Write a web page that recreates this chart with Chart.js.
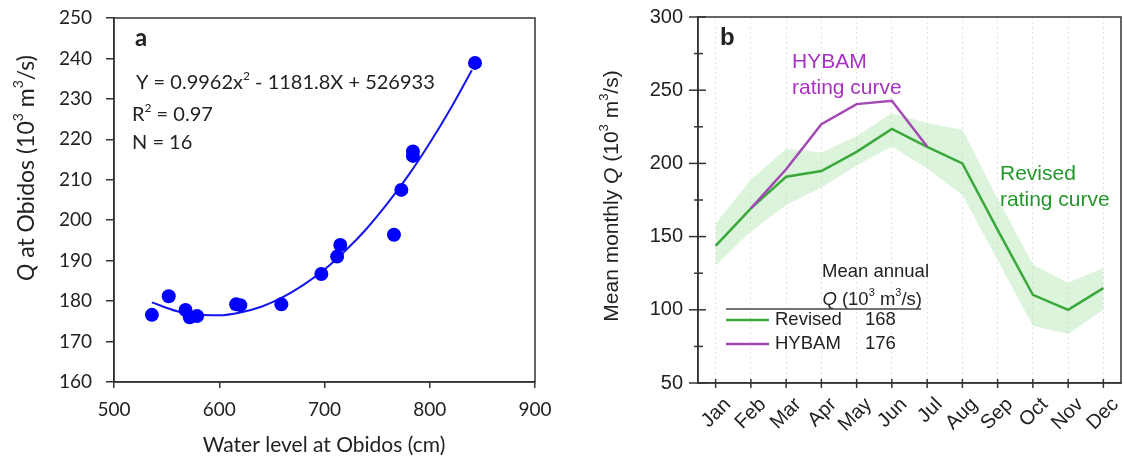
<!DOCTYPE html>
<html>
<head>
<meta charset="utf-8">
<script src="https://cdn.jsdelivr.net/npm/chart.js@4.4.0/dist/chart.umd.min.js"></script>
<style>
  html, body { margin: 0; padding: 0; background: #fff; }
  #wrap { position: relative; width: 1125px; height: 461px; }
  #chartA { position: absolute; left: 0; top: 0; }
  #chartB { position: absolute; left: 560px; top: 0; }
</style>
</head>
<body>
<div id="wrap">
  <canvas id="chartA" width="560" height="461"></canvas>
  <canvas id="chartB" width="565" height="461"></canvas>
</div>
<script>
// ================= DATA: PANEL A =================
const waterLevel = [536, 552, 568, 572, 579, 616, 620, 659, 697, 712, 715, 766, 773, 784, 784, 843];
const dischargeObs = [176.6, 181.2, 177.8, 176.0, 176.3, 179.2, 179.0, 179.2, 186.7, 191.0, 193.9, 196.4, 207.5, 217.0, 215.9, 238.9];

// fitted curve (matches the printed equation)
const fitLevel = [536, 560, 580, 600, 620, 640, 660, 680, 700, 720, 740, 760, 780, 800, 820, 840];
const fitQ = [179.7, 177.5, 176.6, 176.5, 177.2, 178.6, 180.9, 184.0, 187.8, 192.5, 197.9, 204.2, 211.2, 219.1, 227.7, 237.1];

const levelTicks = [500, 600, 700, 800, 900];
const qTicksA = [160, 170, 180, 190, 200, 210, 220, 230, 240, 250];

// ================= DATA: PANEL B =================
const months = ["Jan", "Feb", "Mar", "Apr", "May", "Jun", "Jul", "Aug", "Sep", "Oct", "Nov", "Dec"];
const revisedQ = [143.6, 169.3, 190.9, 194.8, 207.9, 223.6, 211.3, 200.0, 154.6, 110.2, 100.0, 114.8];
const hybamQ = [null, 169.3, 196.0, 226.8, 240.5, 242.8, 211.5, null, null, null, null, null];
const revisedUpper = [159.0, 189.0, 210.0, 207.5, 218.5, 234.5, 227.5, 223.0, 176.0, 131.0, 118.5, 128.5];
const revisedLower = [130.5, 153.5, 171.5, 183.5, 198.5, 211.5, 196.5, 178.5, 134.0, 89.0, 83.5, 100.0];
const qTicksB = [50, 100, 150, 200, 250, 300];

const FONT_A = "Lato, 'Open Sans', sans-serif";
const FONT_B = "'Liberation Sans', Arial, sans-serif";
const INK = "#222";
const GREEN = "#3aa83a";
const PURPLE = "#a349b3";

// ================= RICH TEXT HELPER =================
function drawRich(ctx, segs, x, y, size, family, align) {
  const fontFor = (s) => {
    if (s === "sup") return Math.round(size * 0.62) + "px " + family;
    if (s === "i") return "italic " + size + "px " + family;
    if (s === "b") return "bold " + size + "px " + family;
    return size + "px " + family;
  };
  let w = 0;
  segs.forEach(([t, s]) => {
    ctx.font = fontFor(s);
    w += ctx.measureText(t).width;
  });
  let cx = align === "center" ? x - w / 2 : align === "right" ? x - w : x;
  ctx.textAlign = "left";
  ctx.textBaseline = "middle";
  segs.forEach(([t, s]) => {
    ctx.font = fontFor(s);
    ctx.fillText(t, cx, s === "sup" ? y - size * 0.36 : y);
    cx += ctx.measureText(t).width;
  });
}

function drawRotated(ctx, segs, x, y, size, family) {
  ctx.save();
  ctx.translate(x, y);
  ctx.rotate(-Math.PI / 2);
  drawRich(ctx, segs, 0, 0, size, family, "center");
  ctx.restore();
}

// keep the plot box where the layout padding puts it
function noScalePadding(s) {
  s.paddingTop = 0;
  s.paddingBottom = 0;
  s.paddingLeft = 0;
  s.paddingRight = 0;
}

// ================= PANEL A =================
const panelAText = {
  id: "panelAText",
  afterDraw(chart) {
    const ctx = chart.ctx;
    const a = chart.chartArea;
    ctx.save();
    // frame
    ctx.strokeStyle = "#333";
    ctx.lineWidth = 1.5;
    ctx.strokeRect(a.left, a.top, a.right - a.left, a.bottom - a.top);

    ctx.fillStyle = INK;
    drawRich(ctx, [["a", "b"]], 135, 38, 24, FONT_A, "left");
    drawRich(ctx, [["Y = 0.9962x", ""], ["2", "sup"], [" - 1181.8X + 526933", ""]], 136, 83, 20, FONT_A, "left");
    drawRich(ctx, [["R", ""], ["2", "sup"], [" = 0.97", ""]], 132, 115, 20, FONT_A, "left");
    drawRich(ctx, [["N = 16", ""]], 132, 143, 20, FONT_A, "left");

    drawRich(ctx, [["Water level at Obidos (cm)", ""]], 324, 445, 21, FONT_A, "center");
    drawRotated(ctx, [["Q", "i"], [" at Obidos (10", ""], ["3", "sup"], [" m", ""], ["3", "sup"], ["/s)", ""]], 27, 168, 23, FONT_A);
    ctx.restore();
  },
};

new Chart(document.getElementById("chartA"), {
  type: "scatter",
  data: {
    datasets: [
      {
        label: "Observed",
        data: waterLevel.map((x, i) => ({ x: x, y: dischargeObs[i] })),
        backgroundColor: "#0000ff",
        borderWidth: 0,
        pointRadius: 7,
        order: 0,
      },
      {
        label: "Fit",
        data: fitLevel.map((x, i) => ({ x: x, y: fitQ[i] })),
        showLine: true,
        borderColor: "#1414ee",
        borderWidth: 2,
        pointRadius: 0,
        cubicInterpolationMode: "monotone",
        order: 1,
      },
    ],
  },
  options: {
    responsive: false,
    animation: false,
    events: [],
    layout: { padding: { top: 18, right: 25, left: 0, bottom: 0 } },
    plugins: { legend: { display: false }, tooltip: { enabled: false } },
    scales: {
      x: {
        type: "linear",
        min: levelTicks[0],
        max: levelTicks[levelTicks.length - 1],
        afterBuildTicks: (s) => { s.ticks = levelTicks.map((v) => ({ value: v })); },
        afterFit: (s) => { s.height = 79; noScalePadding(s); },
        ticks: { color: INK, font: { family: FONT_A, size: 19 }, padding: 10 },
        grid: { drawOnChartArea: false, drawTicks: true, tickLength: 6, color: "#333", lineWidth: 1.5 },
        border: { color: "#333", width: 1.5 },
      },
      y: {
        type: "linear",
        min: qTicksA[0],
        max: qTicksA[qTicksA.length - 1],
        afterBuildTicks: (s) => { s.ticks = qTicksA.map((v) => ({ value: v })); },
        afterFit: (s) => { s.width = 114; noScalePadding(s); },
        ticks: { color: INK, font: { family: FONT_A, size: 19 }, padding: 14 },
        grid: { drawOnChartArea: false, drawTicks: true, tickLength: 8, color: "#333", lineWidth: 1.5 },
        border: { color: "#333", width: 1.5 },
      },
    },
  },
  plugins: [panelAText],
});

// ================= PANEL B =================
const panelBText = {
  id: "panelBText",
  afterDraw(chart) {
    const ctx = chart.ctx;
    const a = chart.chartArea;
    const xs = chart.scales.x;
    const ys = chart.scales.y;
    const ox = 560; // page offset of this canvas
    ctx.save();
    ctx.strokeStyle = "#333";
    ctx.lineWidth = 1.5;
    ctx.strokeRect(a.left, a.top, a.right - a.left, a.bottom - a.top);

    // y ticks crossing the axis (major every 50, minor every 25)
    ys.ticks.forEach((t) => {
      const py = ys.getPixelForValue(t.value);
      const major = t.value % 50 === 0;
      ctx.beginPath();
      ctx.moveTo(a.left - (major ? 9 : 4), py);
      ctx.lineTo(a.left + (major ? 8 : 5), py);
      ctx.stroke();
    });
    // x ticks at each month
    months.forEach((m, i) => {
      const px = xs.getPixelForValue(i);
      ctx.beginPath();
      ctx.moveTo(px, a.bottom - 4);
      ctx.lineTo(px, a.bottom + 5);
      ctx.stroke();
    });

    ctx.fillStyle = INK;
    drawRich(ctx, [["b", "b"]], 720 - ox, 38, 24, FONT_B, "left");

    ctx.fillStyle = "#a932c4";
    drawRich(ctx, [["HYBAM", ""]], 792 - ox, 62, 21, FONT_B, "left");
    drawRich(ctx, [["rating curve", ""]], 792 - ox, 88, 21, FONT_B, "left");

    ctx.fillStyle = "#23982a";
    drawRich(ctx, [["Revised", ""]], 1000 - ox, 174, 21, FONT_B, "left");
    drawRich(ctx, [["rating curve", ""]], 1000 - ox, 200, 21, FONT_B, "left");

    // legend
    ctx.fillStyle = INK;
    drawRich(ctx, [["Mean annual", ""]], 929 - ox, 272, 18.5, FONT_B, "right");
    drawRich(ctx, [["Q", "i"], [" (10", ""], ["3", "sup"], [" m", ""], ["3", "sup"], ["/s)", ""]], 922 - ox, 300, 18.5, FONT_B, "right");
    ctx.strokeStyle = "#444";
    ctx.lineWidth = 1.5;
    ctx.beginPath();
    ctx.moveTo(726 - ox, 309);
    ctx.lineTo(921 - ox, 309);
    ctx.stroke();

    ctx.lineWidth = 2.5;
    ctx.strokeStyle = GREEN;
    ctx.beginPath();
    ctx.moveTo(726 - ox, 320);
    ctx.lineTo(769 - ox, 320);
    ctx.stroke();
    ctx.strokeStyle = PURPLE;
    ctx.beginPath();
    ctx.moveTo(726 - ox, 344);
    ctx.lineTo(769 - ox, 344);
    ctx.stroke();

    drawRich(ctx, [["Revised", ""]], 775 - ox, 320, 18.5, FONT_B, "left");
    drawRich(ctx, [["168", ""]], 865 - ox, 320, 18.5, FONT_B, "left");
    drawRich(ctx, [["HYBAM", ""]], 775 - ox, 344, 18.5, FONT_B, "left");
    drawRich(ctx, [["176", ""]], 865 - ox, 344, 18.5, FONT_B, "left");

    drawRotated(ctx, [["Mean monthly ", ""], ["Q", "i"], [" (10", ""], ["3", "sup"], [" m", ""], ["3", "sup"], ["/s)", ""]], 612 - ox, 196, 21, FONT_B);
    ctx.restore();
  },
};

new Chart(document.getElementById("chartB"), {
  type: "line",
  data: {
    labels: months,
    datasets: [
      {
        label: "Upper",
        data: revisedUpper,
        borderWidth: 0,
        pointRadius: 0,
        fill: "+1",
        backgroundColor: "rgba(160, 225, 160, 0.38)",
        order: 5,
      },
      {
        label: "Lower",
        data: revisedLower,
        borderWidth: 0,
        pointRadius: 0,
        fill: false,
        order: 6,
      },
      {
        label: "Revised",
        data: revisedQ,
        borderColor: GREEN,
        borderWidth: 2.5,
        pointRadius: 0,
        fill: false,
        order: 2,
      },
      {
        label: "HYBAM",
        data: hybamQ,
        borderColor: PURPLE,
        borderWidth: 2.5,
        pointRadius: 0,
        fill: false,
        spanGaps: false,
        order: 1,
      },
    ],
  },
  options: {
    responsive: false,
    animation: false,
    events: [],
    layout: { padding: { top: 17, right: 4, left: 0, bottom: 0 } },
    plugins: { legend: { display: false }, tooltip: { enabled: false } },
    scales: {
      x: {
        type: "category",
        offset: true,
        afterFit: (s) => { s.height = 78; noScalePadding(s); },
        ticks: {
          color: INK,
          font: { family: FONT_B, size: 20 },
          autoSkip: false,
          maxRotation: 45,
          minRotation: 45,
          padding: 10,
          labelOffset: 12,
        },
        grid: { offset: false, drawTicks: false, color: "#e2e2e2", lineWidth: 1 },
        border: { color: "#333", width: 1.5, dash: [2, 3] },
      },
      y: {
        min: 50,
        max: 300,
        afterBuildTicks: (s) => {
          const t = [];
          for (let v = qTicksB[0]; v <= qTicksB[qTicksB.length - 1]; v += 25) t.push({ value: v });
          s.ticks = t;
        },
        afterFit: (s) => { s.width = 138; noScalePadding(s); },
        ticks: {
          color: INK,
          font: { family: FONT_B, size: 20 },
          padding: 15,
          callback: (v) => (qTicksB.includes(v) ? String(v) : ""),
        },
        grid: { drawOnChartArea: false, drawTicks: false },
        border: { color: "#333", width: 1.5 },
      },
    },
  },
  plugins: [panelBText],
});
</script>
</body>
</html>
